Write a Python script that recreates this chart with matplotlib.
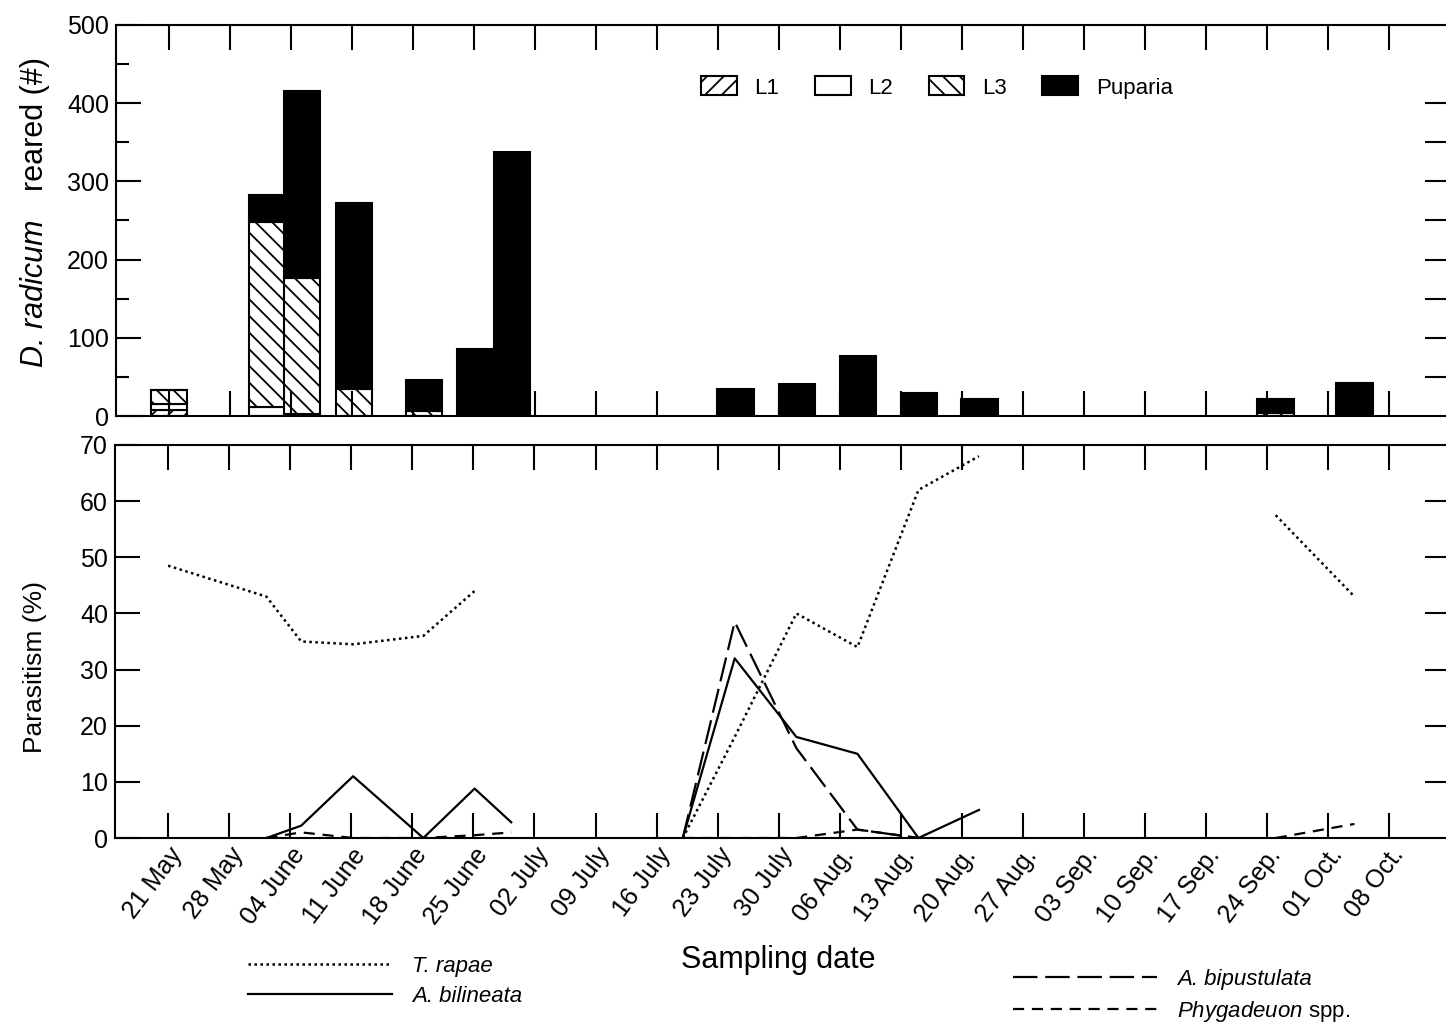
import matplotlib
matplotlib.use("Agg")
from matplotlib import pyplot as plt
import numpy as np

plt.rcParams['font.family'] = ['Liberation Sans', 'DejaVu Sans']
plt.rcParams['mathtext.fontset'] = 'custom'
plt.rcParams['mathtext.rm'] = 'Liberation Sans'
plt.rcParams['mathtext.it'] = 'Liberation Sans:italic'
plt.rcParams['hatch.linewidth'] = 1.3

# sampling dates (axis ticks, one per week)
dates = ['21 May', '28 May', '04 June', '11 June', '18 June', '25 June', '02 July',
         '09 July', '16 July', '23 July', '30 July', '06 Aug.', '13 Aug.', '20 Aug.',
         '27 Aug.', '03 Sep.', '10 Sep.', '17 Sep.', '24 Sep.', '01 Oct.', '08 Oct.']

# reared D. radicum per sample (position in weeks from 21 May)
bar_pos = [0, 1.61, 2.18, 3.03, 4.18, 5.02, 5.62, 9.28, 10.29, 11.29, 12.29, 13.28, 18.14, 19.43]
l1 =      [8, 0, 3, 0, 0, 0, 0, 0, 0, 0, 0, 0, 0, 0]
l2 =      [7, 12, 0, 0, 0, 0, 0, 0, 0, 0, 0, 0, 0, 0]
l3 =      [18, 236, 173, 35, 6, 0, 0, 0, 0, 0, 0, 0, 4, 0]
puparia = [0, 34, 240, 237, 40, 86, 338, 34, 41, 77, 30, 22, 18, 42]

# parasitism (%) - three sampling periods
june_pos = [0, 1.61, 2.18, 3.03, 4.18, 5.02, 5.62]
june_trapae = [48.5, 43, 35, 34.5, 36, 44]
june_bilin = [0, 2.2, 11, 0, 8.8, 2.8]
june_phyg = [0, 1, 0, 0, 0.5, 1]

summer_pos = [8.43, 9.28, 10.29, 11.29, 12.29, 13.28]
summer_trapae = [0, 18, 40, 34, 62, 68]
summer_bilin = [0, 32, 18, 15, 0, 5]
summer_bipus = [0, 38.5, 16, 1.5, 0]
summer_phyg = [0, 0, 0, 1.5, 0]

fall_pos = [18.14, 19.43]
fall_trapae = [57.5, 43]
fall_phyg = [0, 2.5]

W, H = 1446, 1029
fig = plt.figure(figsize=(W / 100, H / 100), dpi=100)

ax1 = fig.add_axes([116 / W, 1 - 416 / H, (W - 116) / W, (416 - 25) / H])
ax2 = fig.add_axes([115 / W, 1 - 838 / H, (W - 115) / W, (838 - 445) / H])

xlim = (-0.87, 20.93)
bw = 0.6
bar_kw = dict(width=bw, edgecolor='black', linewidth=1.5)

b = np.zeros(len(bar_pos))
ax1.bar(bar_pos, l1, bottom=b, color='white', hatch='//', label='L1', **bar_kw)
b += l1
ax1.bar(bar_pos, l2, bottom=b, color='white', label='L2', **bar_kw)
b += l2
ax1.bar(bar_pos, l3, bottom=b, color='white', hatch='\\\\', label='L3', **bar_kw)
b += l3
ax1.bar(bar_pos, puparia, bottom=b, color='black', label='Puparia', **bar_kw)

ax1.set_xlim(*xlim)
ax1.set_ylim(0, 500)
ax1.set_xticks(range(len(dates)))
ax1.set_xticklabels([])
ax1.tick_params(axis='x', direction='in', top=True, bottom=True, length=18, width=1.5)
ax1.set_yticks(range(0, 501, 100))
ax1.set_yticks(range(50, 500, 100), minor=True)
ax1.tick_params(axis='y', which='major', direction='in', length=18, width=1.5,
                labelsize=18, pad=5)
ax1.tick_params(axis='y', which='minor', direction='in', length=9, width=1.5)
ax1.spines['right'].set_visible(False)
for s in ['left', 'top', 'bottom']:
    ax1.spines[s].set_linewidth(1.5)

ax1r = ax1.twinx()
ax1r.set_ylim(0, 500)
ax1r.set_yticks(range(50, 401, 50))
ax1r.tick_params(axis='y', direction='in', length=15, width=1.5, labelright=False)
for s in ax1r.spines.values():
    s.set_visible(False)

ax1.legend(ncol=4, frameon=False, fontsize=16, loc='upper left',
           bbox_to_anchor=(0.425, 0.92), handlelength=1.6, handleheight=0.95,
           handletextpad=0.8, columnspacing=1.6)

# parasitism lines
tr_kw = dict(color='black', lw=1.8, linestyle=(0, (1, 1.4)))
bl_kw = dict(color='black', lw=1.6, linestyle='-')
bp_kw = dict(color='black', lw=1.6, linestyle=(0, (11, 3.5)))
ph_kw = dict(color='black', lw=1.6, linestyle=(0, (5, 3.5)))

h_tr, = ax2.plot(june_pos[:6], june_trapae, **tr_kw)
h_bl, = ax2.plot(june_pos[1:], june_bilin, **bl_kw)
h_ph, = ax2.plot(june_pos[1:], june_phyg, **ph_kw)
ax2.plot(summer_pos, summer_trapae, **tr_kw)
ax2.plot(summer_pos, summer_bilin, **bl_kw)
h_bp, = ax2.plot(summer_pos[:5], summer_bipus, **bp_kw)
ax2.plot(summer_pos[:5], summer_phyg, **ph_kw)
ax2.plot(fall_pos, fall_trapae, **tr_kw)
ax2.plot(fall_pos, fall_phyg, **ph_kw)

ax2.set_xlim(*xlim)
ax2.set_ylim(0, 70)
ax2.set_xticks(range(len(dates)))
ax2.set_xticklabels(dates, rotation=53, ha='right', va='top', rotation_mode='anchor')
ax2.tick_params(axis='x', direction='in', top=True, bottom=True, length=18, width=1.5,
                labelsize=18, pad=4)
ax2.set_yticks(range(0, 71, 10))
ax2.tick_params(axis='y', direction='in', length=18, width=1.5, labelsize=18, pad=5)
ax2.spines['right'].set_visible(False)
for s in ['left', 'top', 'bottom']:
    ax2.spines[s].set_linewidth(1.5)

ax2r = ax2.twinx()
ax2r.set_ylim(0, 70)
ax2r.set_yticks(range(10, 61, 10))
ax2r.tick_params(axis='y', direction='in', length=15, width=1.5, labelright=False)
for s in ax2r.spines.values():
    s.set_visible(False)

fig.text(35 / W, 1 - 293 / H, 'D. radicum', rotation=90, fontstyle='italic',
         ha='center', va='center', fontsize=22)
fig.text(35 / W, 1 - 124 / H, 'reared (#)', rotation=90,
         ha='center', va='center', fontsize=22)
fig.text(35 / W, 1 - 667 / H, 'Parasitism (%)', rotation=90,
         ha='center', va='center', fontsize=19)
fig.text(778 / W, 1 - 960 / H, 'Sampling date', ha='center', va='center', fontsize=22)

leg_kw = dict(frameon=False, fontsize=16, handlelength=6.5, handletextpad=0.9,
              labelspacing=0.4, borderpad=0, borderaxespad=0)
leg_a = fig.legend([h_tr, h_bl], ['T. rapae', 'A. bilineata'],
                   loc='upper left', bbox_to_anchor=(248 / W, 1 - 956 / H), **leg_kw)
leg_b = fig.legend([h_bp, h_ph], ['A. bipustulata', r'$\mathit{Phygadeuon}$ spp.'],
                   loc='upper left', bbox_to_anchor=(1013 / W, 1 - 969 / H), **leg_kw)
for t in leg_a.get_texts():
    t.set_fontstyle('italic')
leg_b.get_texts()[0].set_fontstyle('italic')

fig.savefig('out.png', dpi=100)
